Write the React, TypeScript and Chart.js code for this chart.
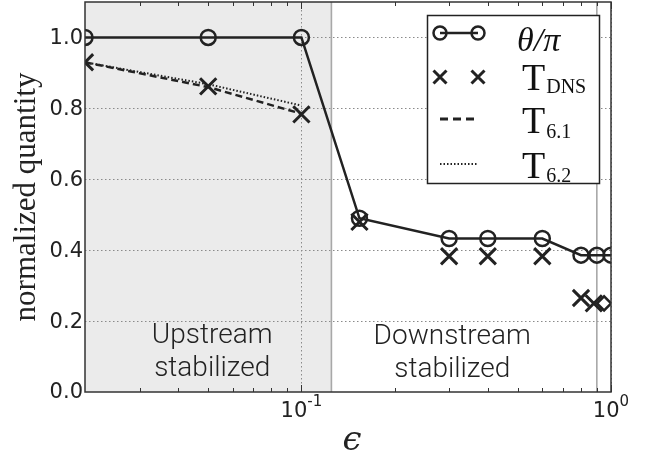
import React, { useEffect, useRef } from 'react';
import { Chart, registerables } from 'chart.js';

Chart.register(...registerables);

// ---- data ----
const epsTheta = [0.02, 0.05, 0.1, 0.154, 0.3, 0.4, 0.6, 0.8, 0.9, 1.0];
const thetaOverPi = [1.0, 1.0, 1.0, 0.49, 0.433, 0.433, 0.433, 0.386, 0.386, 0.386];
const epsDNS = [0.02, 0.05, 0.1, 0.154, 0.3, 0.4, 0.6, 0.8, 0.88];
const tDNS = [0.93, 0.862, 0.783, 0.48, 0.383, 0.383, 0.383, 0.265, 0.25];
const epsModel = [0.02, 0.05, 0.1];
const t61 = [0.93, 0.86, 0.785];
const t62 = [0.93, 0.868, 0.808];
const epsExtra = [0.95];
const extraVals = [0.25];

const yTicks = [0, 0.2, 0.4, 0.6, 0.8, 1.0];
const yTickLabels = ['0.0', '0.2', '0.4', '0.6', '0.8', '1.0'];
const yGrid = [0.2, 0.4, 0.6, 0.8, 1.0];
const xMajorTicks = [0.1, 1];
const xMajorExp = ['-1', '0'];
const xMinorTicks = [0.03, 0.04, 0.05, 0.06, 0.07, 0.08, 0.09, 0.2, 0.3, 0.4, 0.5, 0.6, 0.7, 0.8, 0.9];
const xMin = 0.02;
const xMax = 1.0;
const yMin = 0;
const yMax = 1.1;
const upstreamEnd = 0.125;
const markerLines = [0.125, 0.9];
const regionText = [
  { lines: ['Upstream', 'stabilized'], x: 0.0515, y: 0.138 },
  { lines: ['Downstream', 'stabilized'], x: 0.307, y: 0.135 },
];
const legendMain = ['θ/π', 'T', 'T', 'T'];
const legendSub = ['', 'DNS', '6.1', '6.2'];
const xTitle = 'ϵ';
const yTitle = 'normalized quantity';

const INK = '#222';

const pts = (xs: number[], ys: number[]) => xs.map((x, i) => ({ x, y: ys[i] }));

const decor = {
  id: 'decor',
  beforeDatasetsDraw(chart: any) {
    const { ctx, chartArea: a, scales } = chart;
    const x = scales.x;
    const y = scales.y;
    ctx.save();
    const xs = x.getPixelForValue(upstreamEnd);
    ctx.fillStyle = '#ebebeb';
    ctx.fillRect(a.left, a.top, xs - a.left, a.bottom - a.top);
    // dotted grid
    ctx.strokeStyle = '#8a8a8a';
    ctx.lineWidth = 1;
    ctx.setLineDash([1.5, 2.5]);
    for (const v of yGrid) {
      const py = Math.round(y.getPixelForValue(v)) + 0.5;
      ctx.beginPath();
      ctx.moveTo(a.left, py);
      ctx.lineTo(a.right, py);
      ctx.stroke();
    }
    for (const v of xMajorTicks) {
      const px = Math.round(x.getPixelForValue(v)) + 0.5;
      ctx.beginPath();
      ctx.moveTo(px, a.top);
      ctx.lineTo(px, a.bottom);
      ctx.stroke();
    }
    ctx.setLineDash([]);
    ctx.strokeStyle = '#a8a8a8';
    ctx.lineWidth = 1.6;
    for (const v of markerLines) {
      const px = x.getPixelForValue(v);
      ctx.beginPath();
      ctx.moveTo(px, a.top);
      ctx.lineTo(px, a.bottom);
      ctx.stroke();
    }
    ctx.restore();
  },
  afterDatasetsDraw(chart: any) {
    const { ctx, chartArea: a, scales } = chart;
    const x = scales.x;
    const y = scales.y;
    ctx.save();
    // spines
    ctx.strokeStyle = '#333';
    ctx.lineWidth = 1.5;
    ctx.strokeRect(a.left, a.top, a.right - a.left, a.bottom - a.top);
    // ticks
    ctx.lineWidth = 1;
    const tick = (v: number, len: number) => {
      const px = Math.round(x.getPixelForValue(v)) + 0.5;
      ctx.beginPath();
      ctx.moveTo(px, a.bottom);
      ctx.lineTo(px, a.bottom - len);
      ctx.moveTo(px, a.top);
      ctx.lineTo(px, a.top + len);
      ctx.stroke();
    };
    xMinorTicks.forEach((v) => tick(v, 4));
    xMajorTicks.forEach((v) => tick(v, 7));
    // y tick labels
    ctx.fillStyle = INK;
    ctx.font = '21px "DejaVu Sans"';
    ctx.textAlign = 'right';
    ctx.textBaseline = 'middle';
    yTicks.forEach((v, i) => {
      ctx.fillText(yTickLabels[i], a.left - 2, y.getPixelForValue(v) + 1);
    });
    // x tick labels 10^n
    ctx.textBaseline = 'alphabetic';
    ctx.textAlign = 'left';
    xMajorTicks.forEach((v, i) => {
      const px = x.getPixelForValue(v);
      ctx.font = '21px "DejaVu Sans"';
      const w1 = ctx.measureText('10').width;
      ctx.font = '15px "DejaVu Sans"';
      const w2 = ctx.measureText(xMajorExp[i]).width;
      const start = px - (w1 + w2) / 2;
      ctx.font = '21px "DejaVu Sans"';
      ctx.fillText('10', start, a.bottom + 25);
      ctx.font = '15px "DejaVu Sans"';
      ctx.fillText(xMajorExp[i], start + w1, a.bottom + 14);
    });
    // region annotations
    ctx.font = '300 28px Roboto, "Liberation Sans"';
    ctx.textAlign = 'center';
    ctx.fillStyle = INK;
    for (const r of regionText) {
      const px = x.getPixelForValue(r.x);
      const py = y.getPixelForValue(r.y);
      r.lines.forEach((t, i) => ctx.fillText(t, px, py + i * 33));
    }
    // axis titles
    ctx.font = 'italic 34px "DejaVu Serif"';
    ctx.textAlign = 'center';
    ctx.fillText(xTitle, (a.left + a.right) / 2 + 4, a.bottom + 58);
    ctx.save();
    ctx.translate(35, (a.top + a.bottom) / 2);
    ctx.rotate(-Math.PI / 2);
    ctx.font = '31px "Liberation Serif"';
    ctx.fillText(yTitle, 0, 0);
    ctx.restore();
    // legend
    const lx = 427.5;
    const ly = 15.5;
    ctx.fillStyle = '#fff';
    ctx.fillRect(lx, ly, 172, 168);
    ctx.strokeStyle = INK;
    ctx.lineWidth = 1.5;
    ctx.strokeRect(lx, ly, 172, 168);
    const s0 = 440;
    const s1 = 478;
    const rowsY = [33, 77, 119, 164];
    // row 1
    ctx.lineWidth = 2.5;
    ctx.beginPath();
    ctx.moveTo(s0, rowsY[0]);
    ctx.lineTo(s1, rowsY[0]);
    ctx.stroke();
    for (const cx of [s0, s1]) {
      ctx.beginPath();
      ctx.arc(cx, rowsY[0], 6.5, 0, Math.PI * 2);
      ctx.stroke();
    }
    // row 2
    ctx.lineWidth = 3;
    for (const cx of [s0, s1]) {
      const h = 6.5;
      ctx.beginPath();
      ctx.moveTo(cx - h, rowsY[1] - h);
      ctx.lineTo(cx + h, rowsY[1] + h);
      ctx.moveTo(cx + h, rowsY[1] - h);
      ctx.lineTo(cx - h, rowsY[1] + h);
      ctx.stroke();
    }
    // row 3
    ctx.setLineDash([8, 5]);
    ctx.lineWidth = 3;
    ctx.beginPath();
    ctx.moveTo(s0, rowsY[2]);
    ctx.lineTo(s0 + 34, rowsY[2]);
    ctx.stroke();
    // row 4
    ctx.setLineDash([1.5, 2]);
    ctx.lineWidth = 1.8;
    ctx.beginPath();
    ctx.moveTo(s0, rowsY[3]);
    ctx.lineTo(s1, rowsY[3]);
    ctx.stroke();
    ctx.setLineDash([]);
    // legend text
    ctx.fillStyle = '#111';
    ctx.textAlign = 'left';
    ctx.font = 'italic 34px "Liberation Serif"';
    ctx.fillText(legendMain[0], 517, 51);
    const tBase = [0, 90, 133, 178];
    const subBase = [0, 93, 138, 182];
    for (let i = 1; i < 4; i++) {
      ctx.font = '38px "Liberation Serif"';
      ctx.fillText(legendMain[i], 522, tBase[i]);
      const w = ctx.measureText(legendMain[i]).width;
      ctx.font = '20px "Liberation Serif"';
      ctx.fillText(legendSub[i], 522 + w + 1, subBase[i]);
    }
    ctx.restore();
  },
};

export default function App() {
  const ref = useRef<HTMLCanvasElement | null>(null);
  useEffect(() => {
    if (!ref.current) return;
    const chart = new Chart(ref.current, {
      type: 'scatter',
      data: {
        datasets: [
          {
            label: 'T6.2',
            data: pts(epsModel, t62),
            showLine: true,
            borderColor: INK,
            borderWidth: 2,
            borderDash: [1.5, 2],
            pointRadius: 0,
            clip: 0,
          },
          {
            label: 'T6.1',
            data: pts(epsModel, t61),
            showLine: true,
            borderColor: INK,
            borderWidth: 2.5,
            borderDash: [7, 4],
            pointRadius: 0,
            clip: 0,
          },
          {
            label: 'θ/π',
            data: pts(epsTheta, thetaOverPi),
            showLine: true,
            borderColor: INK,
            borderWidth: 2.5,
            pointStyle: 'circle',
            pointRadius: 7.5,
            pointBorderWidth: 2.5,
            pointBorderColor: INK,
            pointBackgroundColor: 'rgba(0,0,0,0)',
            clip: 0,
          },
          {
            label: 'TDNS',
            data: pts(epsDNS, tDNS),
            showLine: false,
            pointStyle: 'crossRot',
            pointRadius: 11.5,
            pointBorderWidth: 3,
            pointBorderColor: INK,
            borderColor: INK,
            clip: 0,
          },
          {
            label: 'extra',
            data: pts(epsExtra, extraVals),
            showLine: false,
            pointStyle: 'rectRot',
            pointRadius: 7,
            pointBorderWidth: 2.5,
            pointBorderColor: INK,
            pointBackgroundColor: 'rgba(0,0,0,0)',
            clip: 0,
          },
        ],
      },
      options: {
        animation: false,
        responsive: false,
        layout: { autoPadding: false, padding: { left: 0, right: 44, top: 2, bottom: 0 } },
        plugins: { legend: { display: false }, tooltip: { enabled: false } },
        scales: {
          x: {
            type: 'logarithmic',
            min: xMin,
            max: xMax,
            ticks: { display: false },
            grid: { display: false, drawTicks: false },
            border: { display: false },
            afterBuildTicks: (s: any) => {
              s.ticks = xMajorTicks.map((v) => ({ value: v }));
            },
            afterFit: (s: any) => {
              s.height = 66;
            },
          },
          y: {
            type: 'linear',
            min: yMin,
            max: yMax,
            ticks: { display: false },
            grid: { display: false, drawTicks: false },
            border: { display: false },
            afterBuildTicks: (s: any) => {
              s.ticks = yTicks.map((v) => ({ value: v }));
            },
            afterFit: (s: any) => {
              s.width = 85;
            },
          },
        },
      },
      plugins: [decor],
    } as any);
    return () => chart.destroy();
  }, []);
  return (
    <div style={{ position: 'fixed', left: 0, top: 0, width: 655, height: 458, background: '#fff' }}>
      <canvas ref={ref} width={655} height={458} style={{ display: 'block' }} />
    </div>
  );
}
